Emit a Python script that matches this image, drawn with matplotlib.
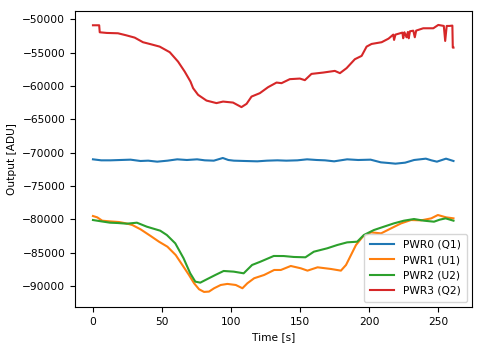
import matplotlib
matplotlib.use("Agg")
import matplotlib.pyplot as plt

# ---- data ----
t_pwr0 = [0, 6, 12.7, 20, 27.2, 34.4, 40, 46.5, 54, 61, 68, 75.4, 81, 87.5, 94, 98, 102, 110, 119,
          126, 133.5, 140, 148, 155, 162, 168, 174.6, 184, 192, 201, 208.4, 214, 219, 226, 232.5,
          241, 245, 249, 255.6, 261]
v_pwr0 = [-71000, -71150, -71150, -71100, -71050, -71250, -71200, -71350, -71200, -71000, -71100,
          -71000, -71150, -71200, -70800, -71100, -71200, -71250, -71300, -71200, -71150, -71200,
          -71150, -71000, -71100, -71150, -71300, -71000, -71100, -71050, -71450, -71550, -71650,
          -71500, -71100, -70900, -71150, -71350, -70900, -71250]

t_pwr1 = [0, 3.1, 6.7, 12, 18.8, 24, 28.5, 34.5, 41.8, 47.8, 53.9, 59.9, 64.7, 69.5, 73.2, 76.8,
          80.4, 84, 87.7, 92.5, 97.3, 103.4, 108.2, 111.8, 116.7, 123.9, 131.2, 136, 143.2, 150.5,
          155.3, 162.6, 172.3, 179.5, 183.2, 186.8, 190.4, 195.3, 201.3, 208.6, 215.8, 223.1,
          230.3, 237.6, 244.9, 249.7, 255.7, 261]
v_pwr1 = [-79500, -79700, -80200, -80300, -80400, -80600, -80850, -81500, -82500, -83350, -84100,
          -85350, -86840, -88340, -89580, -90480, -90880, -90830, -90330, -89840, -89680, -89840,
          -90330, -89580, -88830, -88340, -87590, -87590, -86990, -87340, -87690, -87190, -87440,
          -87690, -86840, -85350, -83850, -82600, -81950, -82100, -81350, -80600, -80100, -80150,
          -79850, -79350, -79700, -79850]

t_pwr2 = [0, 6, 12.4, 18, 24.5, 31.8, 39, 48.7, 53.5, 59.6, 65.6, 70.4, 74.1, 77.7, 82.5, 88.6,
          94.6, 101.9, 109.1, 115.2, 121.2, 130.9, 138.1, 145.4, 153.8, 159.9, 169.6, 176.8, 184,
          191.3, 196.1, 203.4, 210.6, 217.9, 225.1, 232.4, 239.6, 246.9, 251, 255.3, 261]
v_pwr2 = [-80100, -80300, -80500, -80550, -80650, -80500, -81100, -81700, -82350, -83600, -85840,
          -88090, -89340, -89490, -88980, -88340, -87740, -87840, -88090, -86840, -86350, -85490,
          -85500, -85640, -85690, -84850, -84340, -83850, -83450, -83350, -82350, -81600, -81100,
          -80600, -80200, -79950, -80200, -80350, -80050, -79850, -80200]

t_pwr3 = [0, 4.5, 4.9, 10, 18.1, 24, 30.2, 36.2, 42, 48.3, 55.6, 61.6, 66.4, 70.6, 72.5, 76.1, 82.2,
          89.4, 94.2, 101.4, 107.5, 111.2, 114.8, 120.8, 126.8, 132.9, 136.5, 142.5, 149.8, 153.4,
          158.2, 166.7, 175.1, 178.8, 183.6, 189.6, 194.5, 198.1, 201.7, 209, 214, 217.4, 218,
          219, 224, 224.6, 225.5, 227, 228, 228.6, 229.5, 231.9, 233, 234, 239.1, 246.4, 250, 254,
          255, 256.1, 258, 260.2, 260.5, 261]
v_pwr3 = [-50900, -50900, -51950, -52050, -52100, -52400, -52750, -53440, -53750, -54100, -54940,
          -56350, -57840, -59340, -60330, -61330, -62190, -62570, -62340, -62490, -63170, -62680,
          -61590, -61080, -60180, -59490, -59580, -58980, -58890, -59130, -58190, -57990, -57740,
          -58080, -57330, -55990, -55490, -54100, -53700, -53440, -52900, -52300, -53100,
          -52300, -52000, -52850, -51950, -52700, -51900, -52850, -51800, -51710, -52700, -51700,
          -51350, -51350, -50850, -51000, -53250, -51000, -51000, -50950, -54250, -54250]

series = [
    ("PWR0 (Q1)", t_pwr0, v_pwr0, "#1f77b4"),
    ("PWR1 (U1)", t_pwr1, v_pwr1, "#ff7f0e"),
    ("PWR2 (U2)", t_pwr2, v_pwr2, "#2ca02c"),
    ("PWR3 (Q2)", t_pwr3, v_pwr3, "#d62728"),
]

plt.rcParams["font.family"] = "DejaVu Sans"
plt.rcParams["font.size"] = 7.7

fig = plt.figure(figsize=(4.83, 3.47), dpi=100)
ax = fig.add_axes([0.1553, 0.1153, 0.9772 - 0.1553, 0.9683 - 0.1153])

for label, t, v, c in series:
    ax.plot(t, v, color=c, lw=1.5, label=label)

ax.set_xlim(-13, 274.4)
ax.set_ylim(-93140, -48760)
ax.set_xticks([0, 50, 100, 150, 200, 250])
ax.set_yticks(list(range(-90000, -49999, 5000)))
ax.set_xlabel("Time [s]")
ax.set_ylabel("Output [ADU]")
ax.legend(loc="lower right", handlelength=2.3, borderpad=0.55)

fig.savefig("out.png", dpi=100)
